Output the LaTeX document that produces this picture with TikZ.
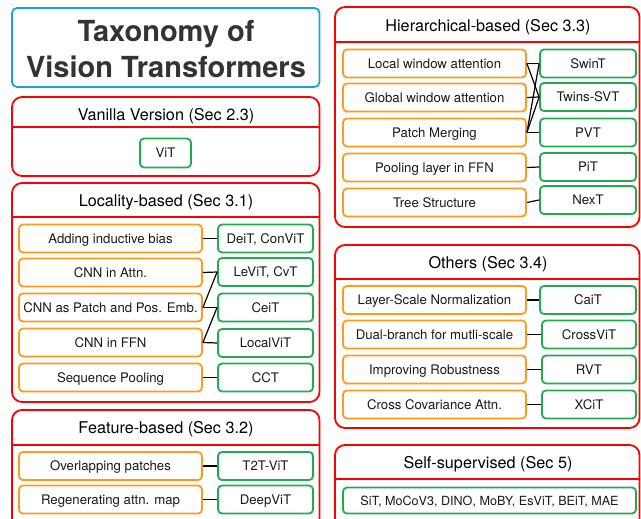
\documentclass[tikz,border=0pt]{standalone}
\usepackage{fontspec}
\setmainfont{TeX Gyre Heros}
\usetikzlibrary{positioning}
\definecolor{titleblue}{HTML}{1BA1E2}
\definecolor{panelred}{HTML}{FF0000}
\definecolor{ideaorange}{HTML}{FF9A1A}
\definecolor{modelgreen}{HTML}{22AA50}
\definecolor{titlegray}{HTML}{333333}

\begin{document}
\begin{tikzpicture}[x=1pt,y=-1pt,
  panel/.style={draw=panelred,line width=1.8pt,rounded corners=10pt},
  sep/.style={draw=panelred,line width=1.6pt},
  head/.style={font=\fontsize{16.2}{19}\selectfont,text height=11.6pt,text depth=0pt},
  idea/.style={draw=ideaorange,line width=1.8pt,rounded corners=4pt,inner sep=0pt,
    minimum width=183pt,minimum height=28pt,text=black!90,font=\fontsize{13.2}{15}\selectfont,
    text height=9.5pt,text depth=0pt},
  model/.style={idea,draw=modelgreen,minimum width=95pt},
  link/.style={line width=1.2pt}]
\clip (0,0) rectangle (641,519);

% title
\draw[titleblue,line width=1.8pt,rounded corners=5pt] (12,8) rectangle (319.5,87);
\node[align=center,text=titlegray,font=\fontsize{29}{36}\selectfont\bfseries] (title) at (166,49) {Taxonomy of\\Vision Transformers};

% vanilla
\draw[panel] (12,97) rectangle (319.5,176);
\draw[sep] (12,127) -- (319.5,127);
\node[head] (vanillahd) at (166,114.5) {Vanilla Version (Sec 2.3)};
\node[model,minimum width=51pt,minimum height=29pt] (vit) at (165.5,153) {ViT};

% locality
\draw[panel] (12,183) rectangle (319.5,402);
\draw[sep] (12,217) -- (319.5,217);
\node[head] (localhd) at (166,201) {Locality-based (Sec 3.1)};
\node[idea] (bias) at (110.5,238.5) {Adding inductive bias};
\node[idea] (cnnattn) at (110.5,272.5) {CNN in Attn.};
\node[idea] (cnnpatch) at (110.5,307.5) {CNN as Patch and Pos. Emb.};
\node[idea] (cnnffn) at (110.5,342.5) {CNN in FFN};
\node[idea] (seqpool) at (110.5,377.5) {Sequence Pooling};
\node[model] (deit) at (265.5,238.5) {DeiT, ConViT};
\node[model] (levit) at (265.5,272) {LeViT, CvT};
\node[model] (ceit) at (265.5,307.5) {CeiT};
\node[model] (localvit) at (265.5,343) {LocalViT};
\node[model] (cct) at (265.5,377.5) {CCT};
\draw[link] (bias.east) -- (deit.west);
\draw[link] (cnnattn.east) -- (levit.west);
\draw[link] (cnnpatch.east) -- (levit.west);
\draw[link] (cnnpatch.east) -- (ceit.west);
\draw[link] (cnnffn.east) -- (ceit.west);
\draw[link] (cnnffn.east) -- (localvit.west);
\draw[link] (seqpool.east) -- (cct.west);

% feature
\draw[panel] (12,410) rectangle (319.5,540);
\draw[sep] (12,445) -- (319.5,445);
\node[head] (featurehd) at (166,428) {Feature-based (Sec 3.2)};
\node[idea] (overlap) at (110.5,466) {Overlapping patches};
\node[idea] (regen) at (110.5,499.5) {Regenerating attn. map};
\node[model] (t2t) at (265.5,466) {T2T-ViT};
\node[model] (deepvit) at (265.5,499.5) {DeepViT};
\draw[link] (overlap.east) -- (t2t.west);
\draw[link] (regen.east) -- (deepvit.west);

% hierarchical
\draw[panel] (335,7) rectangle (639.5,227);
\draw[sep] (335,42) -- (639.5,42);
\node[head] (hierhd) at (488,26) {Hierarchical-based (Sec 3.3)};
\node[idea] (localwin) at (434.5,63.5) {Local window attention};
\node[idea] (globalwin) at (434.5,97.5) {Global window attention};
\node[idea] (merging) at (434.5,132.5) {Patch Merging};
\node[idea] (poolffn) at (434.5,167.5) {Pooling layer in FFN};
\node[idea] (tree) at (434.5,202.5) {Tree Structure};
\node[model,minimum width=96pt] (swin) at (588,63.5) {SwinT};
\node[model,minimum width=96pt] (twins) at (588,97) {Twins-SVT};
\node[model,minimum width=96pt] (pvt) at (588,132.5) {PVT};
\node[model,minimum width=96pt] (pit) at (588,167) {PiT};
\node[model,minimum width=96pt] (next) at (588,200) {NexT};
\draw[link] (localwin.east) -- (swin.west);
\draw[link] (localwin.east) -- (twins.west);
\draw[link] (globalwin.east) -- (twins.west);
\draw[link] (merging.east) -- (swin.west);
\draw[link] (merging.east) -- (twins.west);
\draw[link] (merging.east) -- (pvt.west);
\draw[link] (poolffn.east) -- (pit.west);
\draw[link] (tree.east) -- (next.west);

% others
\draw[panel] (335,245) rectangle (639.5,428);
\draw[sep] (335,279) -- (639.5,279);
\node[head] (othershd) at (488,263) {Others (Sec 3.4)};
\node[idea] (layerscale) at (434.5,300) {Layer-Scale Normalization};
\node[idea] (dual) at (434.5,334.5) {Dual-branch for mutli-scale};
\node[idea] (robust) at (434.5,369.5) {Improving Robustness};
\node[idea] (crosscov) at (434.5,404.5) {Cross Covariance Attn.};
\node[model,minimum width=96pt] (cait) at (588,300) {CaiT};
\node[model,minimum width=94pt] (crossvit) at (589,334.5) {CrossViT};
\node[model,minimum width=94pt] (rvt) at (589,369.5) {RVT};
\node[model,minimum width=94pt] (xcit) at (589,404.5) {XCiT};
\draw[link] (layerscale.east) -- (cait.west);
\draw[link] (dual.east) -- (crossvit.west);
\draw[link] (robust.east) -- (rvt.west);
\draw[link] (crosscov.east) -- (xcit.west);

% self-supervised
\draw[panel] (335,445) rectangle (639.5,540);
\draw[sep] (335,479) -- (639.5,479);
\node[head] (selfhd) at (488,463) {Self-supervised (Sec 5)};
\node[model,minimum width=293pt,minimum height=26pt,font=\fontsize{12.6}{15}\selectfont] (ssl) at (489.5,500.5) {SiT, MoCoV3, DINO, MoBY, EsViT, BEiT, MAE};
\end{tikzpicture}
\end{document}
